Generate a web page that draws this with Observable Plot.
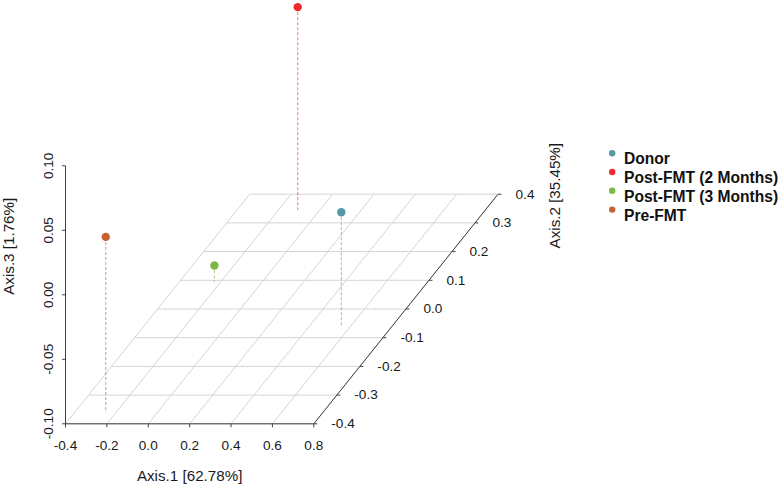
<!DOCTYPE html>
<html><head><meta charset="utf-8">
<script src="https://cdn.jsdelivr.net/npm/d3@7"></script>
<script src="https://cdn.jsdelivr.net/npm/@observablehq/plot@0.6"></script>
<style>body{margin:0;background:#fff;}</style>
</head><body><div id="chart"></div>
<script>
// ---- data ----
const groups = ["Donor", "Post-FMT (2 Months)", "Post-FMT (3 Months)", "Pre-FMT"];
const axis1 = [0.558, -0.098, -0.229, -0.250];
const axis2 = [-0.063, 0.337, 0.093, -0.360];
const axis3 = [-0.011, 0.059, -0.087, 0.036];
const colors = ["#5499A4", "#EE2A2A", "#7CB944", "#C6622F"];
const xTicks = [-0.4, -0.2, 0.0, 0.2, 0.4, 0.6, 0.8];
const yTicks = [-0.4, -0.3, -0.2, -0.1, 0.0, 0.1, 0.2, 0.3, 0.4];
const zTicks = [-0.10, -0.05, 0.00, 0.05, 0.10];
const axisTitles = ["Axis.1 [62.78%]", "Axis.2 [35.45%]", "Axis.3 [1.76%]"];

// ---- oblique projection (scatterplot3d style) ----
const KU = 1.113, KV = 0.2225;
const x0 = xTicks[0], x1 = xTicks[xTicks.length - 1];
const y0 = yTicks[0], y1 = yTicks[yTicks.length - 1];
const z0 = zTicks[0], z1 = zTicks[zTicks.length - 1];
const proj = (X, Y, Z) => [X + (Y - y0) * KU, Z + (Y - y0) * KV];
const seg = (a, b) => { const [ua, va] = proj(...a), [ub, vb] = proj(...b); return {ua, va, ub, vb}; };

const pts = groups.map((g, i) => {
  const [u, v] = proj(axis1[i], axis2[i], axis3[i]);
  const [ub, vb] = proj(axis1[i], axis2[i], z0);
  return {g, u, v, ub, vb, c: colors[i]};
});
const grid = [
  ...xTicks.map(t => seg([t, y0, z0], [t, y1, z0])),
  ...yTicks.map(t => seg([x0, t, z0], [x1, t, z0]))
];
const axesLines = [
  seg([x0, y0, z0], [x1, y0, z0]),
  seg([x1, y0, z0], [x1, y1, z0]),
  seg([x0, y0, z0], [x0, y0, z1])
];
const xTickPts = xTicks.map(t => { const [u, v] = proj(t, y0, z0); return {t, u, v}; });
const yTickPts = yTicks.map(t => { const [u, v] = proj(x1, t, z0); return {t, u, v}; });
const zTickPts = zTicks.map(t => { const [u, v] = proj(x0, y0, t); return {t, u, v}; });
const [y2u, y2v] = proj(x1, y1, z0);

const tickSym = (dx, dy) => ({draw(ctx) { ctx.moveTo(0, 0); ctx.lineTo(dx, dy); }});
const axisColor = "#404040";

const legendMarks = groups.flatMap((g, i) => [
  Plot.dot([g], {frameAnchor: "top-left", dx: 546.7, dy: -12.6 + i * 18.8, r: 3.2, fill: colors[i]}),
  Plot.text([g], {frameAnchor: "top-left", dx: 558.5, dy: -12.6 + i * 18.8, text: d => d,
    textAnchor: "start", fontWeight: "bold", fontSize: 15.6, fill: "#111"})
]);

const chart = Plot.plot({
  width: 780, height: 492,
  marginTop: 165.3, marginBottom: 68.7, marginLeft: 65, marginRight: 466.7,
  x: {domain: [x0, x1], range: [65, 313.3], axis: null},
  y: {domain: [z0, z1], range: [423.3, 165.3], axis: null},
  color: {type: "identity"},
  style: {fontFamily: "'Liberation Sans', Arial, sans-serif", fontSize: "13.6px", background: "#fff", overflow: "visible"},
  marks: [
    Plot.link(grid, {x1: "ua", y1: "va", x2: "ub", y2: "vb", stroke: "#d4d4d4", strokeWidth: 1}),
    Plot.link(axesLines, {x1: "ua", y1: "va", x2: "ub", y2: "vb", stroke: axisColor, strokeWidth: 1}),
    Plot.dot(xTickPts, {x: "u", y: "v", symbol: tickSym(0, 3.5), stroke: axisColor, fill: "none", strokeWidth: 1}),
    Plot.dot(zTickPts, {x: "u", y: "v", symbol: tickSym(-3.5, 0), stroke: axisColor, fill: "none", strokeWidth: 1}),
    Plot.dot(yTickPts, {x: "u", y: "v", symbol: tickSym(3.5, 0), stroke: axisColor, fill: "none", strokeWidth: 1}),
    Plot.text(xTickPts, {x: "u", y: "v", text: d => d.t.toFixed(1), dy: 21.7, fill: "#1a1a1a"}),
    Plot.text(zTickPts, {x: "u", y: "v", text: d => d.t.toFixed(2), rotate: -90, dx: -17.3, fill: "#1a1a1a"}),
    Plot.text(yTickPts, {x: "u", y: "v", text: d => d.t.toFixed(1), dx: 17.5, textAnchor: "start", fill: "#1a1a1a"}),
    Plot.text([axisTitles[0]], {frameAnchor: "bottom", dy: 57, text: d => d, fontSize: 15.2, fill: "#1a1a1a"}),
    Plot.text([axisTitles[2]], {frameAnchor: "left", dx: -56, rotate: -90, text: d => d, fontSize: 15.2, fill: "#1a1a1a"}),
    Plot.text([axisTitles[1]], {x: () => y2u, y: () => y2v, dx: 57.5, dy: 1.5, rotate: -90, text: d => d, fontSize: 15.2, fill: "#1a1a1a"}),
    Plot.link(pts, {x1: "u", y1: "v", x2: "ub", y2: "vb", stroke: "c", strokeDasharray: "3,2", strokeOpacity: 0.6, strokeWidth: 1.1}),
    Plot.dot(pts, {x: "u", y: "v", r: 4.2, fill: "c"}),
    ...legendMarks
  ]
});
document.getElementById("chart").appendChild(chart);
</script>
</body></html>
